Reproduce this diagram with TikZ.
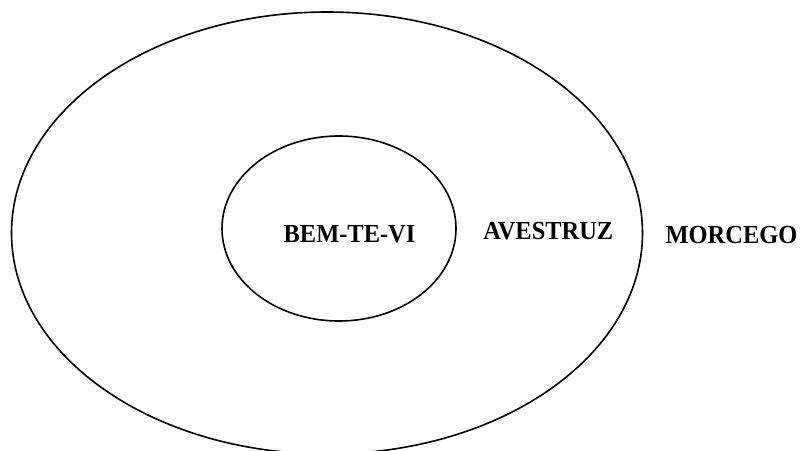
\documentclass[tikz,border=0pt]{standalone}
\usepackage{fontspec}
\setmainfont{Liberation Serif}
\newcommand{\narrowtxt}[1]{\scalebox{0.94}[1]{#1}}
\begin{document}
\begin{tikzpicture}[x=1pt,y=-1pt,
  ring/.style={draw=black,line width=1.6pt},
  label/.style={font=\fontsize{26}{31}\selectfont\bfseries,anchor=base,inner sep=0pt}]
\useasboundingbox[fill=white] (0,0) rectangle (805,450);
\draw[ring] (327,233) ellipse (315.5 and 221);
\draw[ring] (339,228.5) ellipse (117 and 92.5);
\node[label] (bem) at (349.5,242.3) {\narrowtxt{BEM-TE-VI}};
\node[label] (ave) at (548.3,239) {\narrowtxt{AVESTRUZ}};
\node[label] (mor) at (731.5,243.3) {\narrowtxt{MORCEGO}};
\end{tikzpicture}
\end{document}
